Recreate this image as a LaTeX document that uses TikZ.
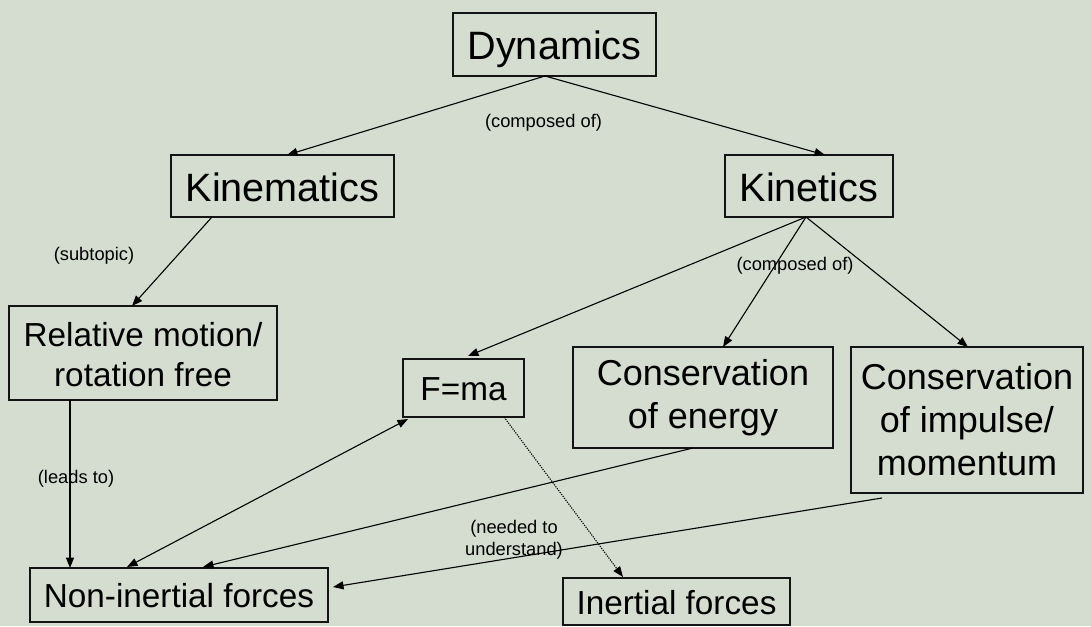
\documentclass[tikz,border=0pt]{standalone}
\usepackage{fontspec}
\setmainfont{Liberation Sans}
\usetikzlibrary{calc,arrows.meta}
\definecolor{bgc}{RGB}{212,221,208}
\definecolor{edgec}{RGB}{20,20,20}
\tikzset{
  box/.style={draw=edgec,line width=1.2pt,inner sep=0pt,outer sep=0pt,align=center},
  bigtxt/.style={font=\fontsize{39.6}{45}\selectfont,text height=37.6pt,text depth=6.7pt},
  midtxt/.style={font=\fontsize{33.3}{40}\selectfont},
  midone/.style={font=\fontsize{33.3}{40}\selectfont,text height=31.6pt,text depth=5.7pt},
  constxt/.style={font=\fontsize{36}{43}\selectfont},
  lbl/.style={font=\fontsize{18.3}{22}\selectfont,inner sep=0pt,align=center},
  tip/.tip={Triangle[length=10.5pt,width=8pt]},
  conn/.style={line width=1.1pt,draw=black,-tip},
}
\begin{document}
\begin{tikzpicture}[x=1pt,y=-1pt]
\path[fill=bgc] (0,0) rectangle (1091,626);
\useasboundingbox (0,0) rectangle (1091,626);

\node[box,bigtxt,minimum width=203pt,minimum height=63pt] (dyn) at (554.5,44.5) {Dynamics};
\node[box,bigtxt,minimum width=223pt,minimum height=62pt] (kinem) at (282.5,186) {Kinematics};
\node[box,bigtxt,minimum width=168pt,minimum height=62pt] (kinet) at (809,186) {Kinetics};
\node[box,midtxt,minimum width=268pt,minimum height=94pt] (rel) at (143,353) {\rule{0pt}{27pt}Relative motion/\\rotation free};
\node[box,midone,minimum width=121pt,minimum height=58pt] (fma) at (463.5,388) {F=ma};
\node[box,constxt,minimum width=260pt,minimum height=101pt] (ce) at (703,397.5) {Conservation\\of energy};
\node[box,constxt,minimum width=232pt,minimum height=146pt] (ci) at (967,420) {Conservation\\of impulse/\\momentum};
\node[box,midone,minimum width=298pt,minimum height=54pt] (ni) at (179,595) {Non-inertial forces};
\node[box,midone,minimum width=227pt,minimum height=47pt] (inf) at (676.5,601.5) {Inertial forces};

\node[lbl] (l1) at (543.5,123) {(composed of)};
\node[lbl] (l2) at (94,256) {(subtopic)};
\node[lbl] (l3) at (795,266) {(composed of)};
\node[lbl] (l4) at (76,479) {(leads to)};
\node[lbl] (l5) at (514,540) {(needed to\\understand)};

\draw[conn] ($(dyn.south)+(-9.5,0)$) -- ($(kinem.north)+(4.5,0)$);
\draw[conn] ($(dyn.south)+(-9.5,0)$) -- ($(kinet.north)+(16,0)$);
\draw[conn] ($(kinem.south)+(-70.5,0)$) -- ($(rel.north)+(-11,0)$);
\draw[conn] ($(kinet.south)+(-3,0)$) -- ($(fma.north)+(4.5,-3)$);
\draw[conn] ($(kinet.south)+(-3,0)$) -- ($(ce.north)+(20,0)$);
\draw[conn] ($(kinet.south)+(-3,0)$) -- ($(ci.north)+(1,0)$);
\draw[conn] ($(rel.south)+(-73,0)$) -- ($(ni.north)+(-109,0)$);
\draw[conn,tip-tip] ($(fma.south)+(-55.5,2)$) -- ($(ni.north)+(-52,-1)$);
\draw[conn] ($(ce.south)+(-10,0)$) -- ($(ni.north)+(24,-1)$);
\draw[conn] ($(ci.south)+(-85,5)$) -- ($(ni.east)+(5,-8)$);
\draw[conn,dash pattern=on 1.2pt off 1.2pt] ($(fma.south)+(40.5,0)$) -- ($(inf.north)+(-53.5,-1)$);
\end{tikzpicture}
\end{document}
